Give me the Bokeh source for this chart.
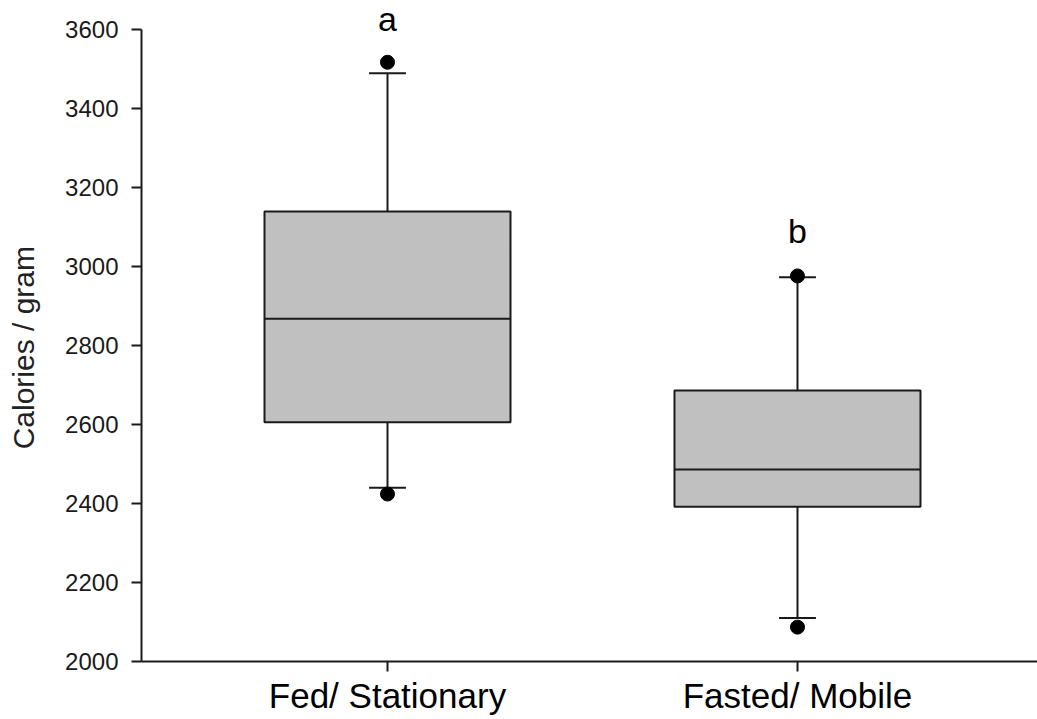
from bokeh.plotting import figure
from bokeh.models import Range1d, FixedTicker, ColumnDataSource
from bokeh.core.properties import value
from bokeh.embed import file_html
from bokeh.resources import INLINE

# Box-plot summary for each group (calories per gram)
groups = ["Fed/ Stationary", "Fasted/ Mobile"]
lower_whisker = [2440, 2110]
q1 = [2606, 2392]
median = [2868, 2486]
q3 = [3139, 2686]
upper_whisker = [3489, 2973]
outliers_low = [2424, 2087]
outliers_high = [3517, 2976]
sig_letters = ["a", "b"]
sig_letter_y = [3626, 3089]
y_ticks = [2000, 2200, 2400, 2600, 2800, 3000, 3200, 3400, 3600]
y_label = "Calories / gram"

FONT = "Liberation Sans"
INK = "#1a1a1a"
Y_MIN, Y_MAX = 2000, 3600

xs = [i + 1 for i in range(len(groups))]
box_w = 0.6
cap_w = 0.09

src = ColumnDataSource(dict(
    x=xs,
    left=[x - box_w / 2 for x in xs],
    right=[x + box_w / 2 for x in xs],
    cap_l=[x - cap_w / 2 for x in xs],
    cap_r=[x + cap_w / 2 for x in xs],
    lw=lower_whisker, q1=q1, med=median, q3=q3, uw=upper_whisker,
    lo=outliers_low, hi=outliers_high,
    letter=sig_letters, ly=sig_letter_y,
))

p = figure(
    width=1037, height=719,
    x_range=Range1d(0.4, 2.5854),
    y_range=Range1d(Y_MIN, 3673.4),
    output_backend="svg", toolbar_location=None,
    min_border_left=141, min_border_right=0,
    min_border_top=0, min_border_bottom=58,
)
p.outline_line_color = None
p.xgrid.visible = False
p.ygrid.visible = False
p.background_fill_color = "white"
p.border_fill_color = "white"

# whiskers
p.segment(x0="x", y0="q3", x1="x", y1="uw", source=src, line_color=INK, line_width=2)
p.segment(x0="x", y0="lw", x1="x", y1="q1", source=src, line_color=INK, line_width=2)
p.segment(x0="cap_l", y0="uw", x1="cap_r", y1="uw", source=src, line_color=INK, line_width=2)
p.segment(x0="cap_l", y0="lw", x1="cap_r", y1="lw", source=src, line_color=INK, line_width=2)

# boxes and medians
p.quad(left="left", right="right", bottom="q1", top="q3", source=src,
       fill_color="#c0c0c0", line_color=INK, line_width=2)
p.segment(x0="left", y0="med", x1="right", y1="med", source=src, line_color=INK, line_width=2)

# outlying points
p.scatter(x="x", y="hi", source=src, size=14, color="black")
p.scatter(x="x", y="lo", source=src, size=14, color="black")

# significance letters
p.text(x="x", y="ly", text="letter", source=src,
       text_font=value(FONT), text_font_size="34px", text_color="black",
       text_align="center", text_baseline="alphabetic")

# y axis; the trailing no-break spaces keep the title centred on the 2000-3600 span
ya = p.yaxis[0]
ya.ticker = FixedTicker(ticks=y_ticks)
ya.bounds = (Y_MIN, Y_MAX)
ya.axis_label = y_label + "\u00a0" * 4
ya.axis_label_text_font = FONT
ya.axis_label_text_font_size = "30px"
ya.axis_label_text_font_style = "normal"
ya.axis_label_text_color = "#222222"
ya.axis_label_standoff = 22
ya.major_label_text_font = FONT
ya.major_label_text_font_size = "24px"
ya.major_label_text_color = INK
ya.major_label_standoff = 13
ya.major_tick_out = 10
ya.major_tick_in = 0
ya.minor_tick_out = 0
ya.minor_tick_in = 0
ya.axis_line_width = 2
ya.axis_line_color = INK
ya.major_tick_line_width = 2
ya.major_tick_line_color = INK

# x axis
xa = p.xaxis[0]
xa.ticker = FixedTicker(ticks=xs)
xa.major_label_overrides = {x: g for x, g in zip(xs, groups)}
xa.major_label_text_font = FONT
xa.major_label_text_font_size = "35px"
xa.major_label_text_color = "black"
xa.major_label_standoff = 4
xa.major_tick_out = 10
xa.major_tick_in = 0
xa.minor_tick_out = 0
xa.minor_tick_in = 0
xa.axis_line_width = 2
xa.axis_line_color = INK
xa.major_tick_line_width = 2
xa.major_tick_line_color = INK

open("out.html", "w").write(file_html(p, INLINE))
